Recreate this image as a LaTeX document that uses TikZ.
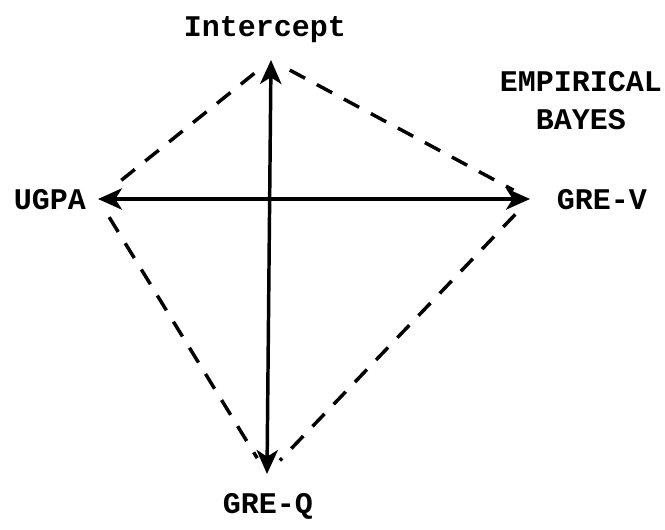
\documentclass[tikz,border=0pt]{standalone}
\usepackage{fontspec}
\setmonofont{Liberation Mono}
\usetikzlibrary{arrows.meta}
\tikzset{
  lbl/.style={font=\ttfamily\bfseries\fontsize{22.5}{28.5}\selectfont, inner sep=0pt, align=center},
  axis/.style={line width=2.6pt, {Stealth[length=18pt,width=16pt,inset=5pt]}-{Stealth[length=18pt,width=16pt,inset=5pt]}},
  dashline/.style={line width=2.6pt, dash pattern=on 13pt off 10pt, shorten <=16pt, shorten >=14pt}
}
\begin{document}
\begin{tikzpicture}[x=0.75pt,y=-0.75pt]
\useasboundingbox (0,0) rectangle (665,530);
\coordinate (T) at (271,60);
\coordinate (B) at (267,474);
\coordinate (L) at (98,199);
\coordinate (R) at (530,199);
\node[lbl] (intercept) at (265,30) {Intercept};
\node[lbl] (eb) at (581,101) {EMPIRICAL\\BAYES};
\node[lbl] (ugpa) at (50,200) {UGPA};
\node[lbl] (grev) at (602,200) {GRE-V};
\node[lbl] (greq) at (268,506) {GRE-Q};
\draw[axis] (B) -- (T);
\draw[axis] (L) -- (R);
\draw[dashline] (T) -- (L);
\draw[dashline] (T) -- (R);
\draw[dashline] (L) -- (B);
\draw[dashline] (R) -- (B);
\end{tikzpicture}
\end{document}
